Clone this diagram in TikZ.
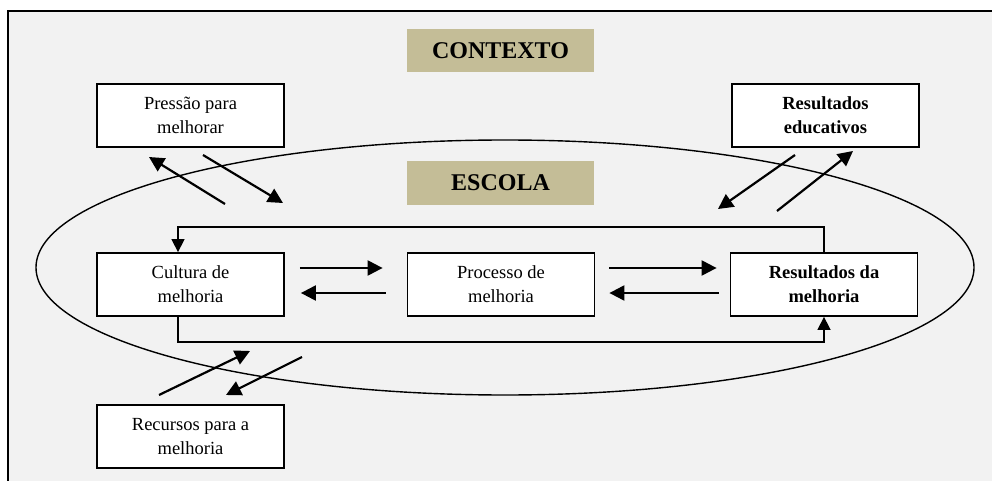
\documentclass[tikz,border=0pt]{standalone}
\usepackage{fontspec}
\setmainfont{Liberation Serif}
\usetikzlibrary{arrows.meta}
\definecolor{fundo}{HTML}{F2F2F2}
\definecolor{tanescola}{HTML}{C4BD97}

\begin{document}
\begin{tikzpicture}[x=1pt,y=-1pt,
    caixa/.style={draw, line width=1.8pt, fill=white, minimum width=187pt, minimum height=63pt,
        inner sep=0pt, align=center, font=\fontsize{18.5}{24}\selectfont},
    caixanegrito/.style={caixa, font=\fontsize{18.5}{24}\selectfont\bfseries},
    faixa/.style={fill=tanescola, minimum width=187pt, minimum height=43pt, inner sep=0pt,
        font=\fontsize{24}{28}\selectfont\bfseries},
    seta/.style={line width=2.2pt, -{Triangle[length=15pt,width=15pt]}},
    laco/.style={line width=1.5pt, -{Triangle[length=13pt,width=13pt]}}]

    % Page and the grey frame (cut by the page on the right and below)
    \clip (0,0) rectangle (992,481);
    \draw[line width=1.8pt, fill=fundo] (8,11) rectangle (1010,500);

    % The school as an ellipse
    \draw[line width=1.4pt] (505,267.5) ellipse [x radius=469pt, y radius=127.5pt];

    % Headings
    \node[faixa] (contexto) at (500.5,50.5) {CONTEXTO};
    \node[faixa] (escola) at (500.5,183) {ESCOLA};

    % Boxes outside the school
    \node[caixa] (pressao) at (190.5,115.5) {Pressão para\\melhorar};
    \node[caixanegrito] (educ) at (825.5,115.5) {Resultados\\educativos};
    \node[caixa] (recursos) at (190.5,436.5) {Recursos para a\\melhoria};

    % Boxes inside the school
    \node[caixa] (cultura) at (190.5,284.5) {Cultura de\\melhoria};
    \node[caixa] (processo) at (501,284.5) {Processo de\\melhoria};
    \node[caixanegrito] (rmelhoria) at (824,284.5) {Resultados da\\melhoria};

    % Loop over and under the row
    \draw[laco] (rmelhoria.north) -- ++(0,-25) -| ([xshift=-12.5pt]cultura.north);
    \draw[laco] ([xshift=-12.5pt]cultura.south) -- ++(0,25) -| (rmelhoria.south);

    % Arrows along the row
    \draw[seta, shorten <=15pt, shorten >=24pt] ([yshift=16.5pt]cultura.east) -- ([yshift=16.5pt]processo.west);
    \draw[seta, shorten <=21pt, shorten >=16pt] ([yshift=-8.5pt]processo.west) -- ([yshift=-8.5pt]cultura.east);
    \draw[seta, shorten <=14pt, shorten >=13pt] ([yshift=16.5pt]processo.east) -- ([yshift=16.5pt]rmelhoria.west);
    \draw[seta, shorten <=11pt, shorten >=14pt] ([yshift=-8.5pt]rmelhoria.west) -- ([yshift=-8.5pt]processo.east);

    % Arrows crossing the ellipse
    \coordinate (pa) at (225,204);
    \coordinate (pb) at (149,157);
    \coordinate (pc) at (203,155);
    \coordinate (pd) at (283,203);
    \draw[seta] (pa) -- (pb);
    \draw[seta] (pc) -- (pd);

    \coordinate (ea) at (795,155);
    \coordinate (eb) at (718,209);
    \coordinate (ec) at (777,211);
    \coordinate (ed) at (853,151);
    \draw[seta] (ea) -- (eb);
    \draw[seta] (ec) -- (ed);

    \coordinate (ra) at (159,395);
    \coordinate (rb) at (250,351);
    \coordinate (rc) at (302,357);
    \coordinate (rd) at (226,395);
    \draw[seta] (ra) -- (rb);
    \draw[seta] (rc) -- (rd);

\end{tikzpicture}
\end{document}
